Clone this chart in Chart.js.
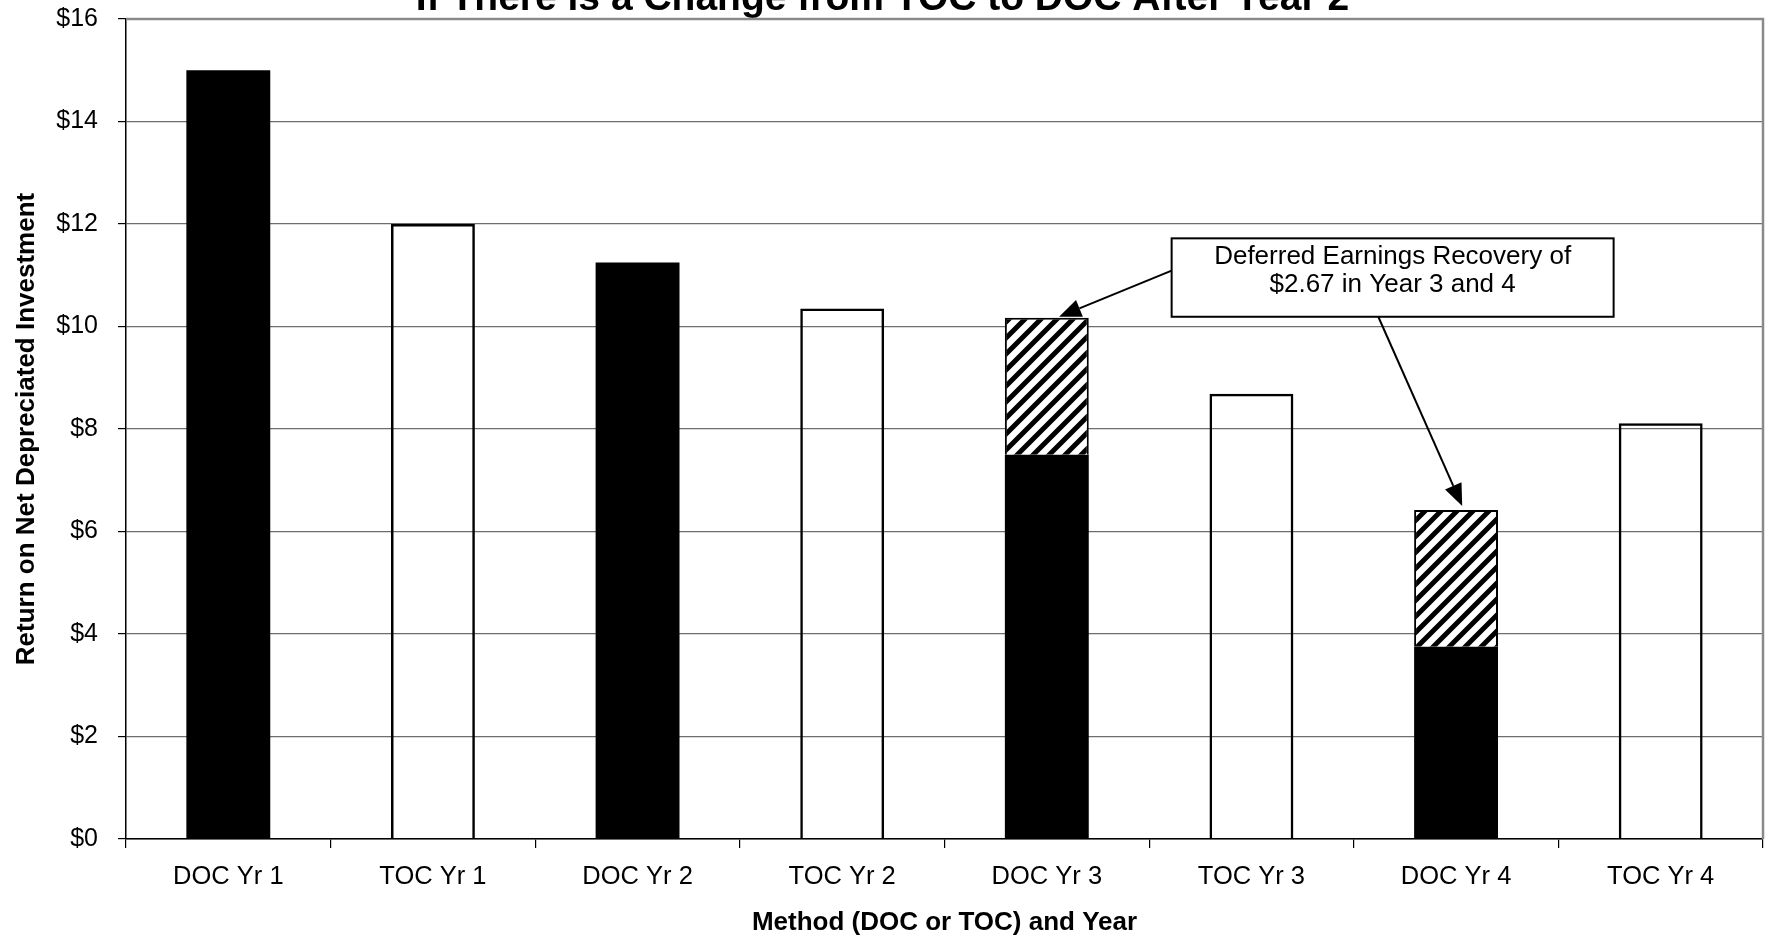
<!DOCTYPE html>
<html>
<head>
<meta charset="utf-8">
<script src="https://cdn.jsdelivr.net/npm/chart.js@4.4.1/dist/chart.umd.min.js"></script>
<style>
  html, body { margin: 0; padding: 0; background: #ffffff; overflow: hidden; }
  #wrap { width: 1765px; height: 939px; position: relative; }
</style>
</head>
<body>
<div id="wrap"><canvas id="c" width="1765" height="939"></canvas></div>
<script>
// Return on net depreciated investment, DOC vs TOC, years 1-4
const categories = ['DOC Yr 1', 'TOC Yr 1', 'DOC Yr 2', 'TOC Yr 2', 'DOC Yr 3', 'TOC Yr 3', 'DOC Yr 4', 'TOC Yr 4'];
const docReturn = [15.00, null, 11.25, null, 7.50, null, 3.75, null];
const deferredRecovery = [null, null, null, null, 2.67, null, 2.67, null];
const tocReturn = [null, 12.00, null, 10.35, null, 8.69, null, 8.11];
const yTickValues = [0, 2, 4, 6, 8, 10, 12, 14, 16];
const yTickLabels = ['$0', '$2', '$4', '$6', '$8', '$10', '$12', '$14', '$16'];

const chartTitle = 'If There is a Change from TOC to DOC After Year 2';
const xTitle = 'Method (DOC or TOC) and Year';
const yTitle = 'Return on Net Depreciated Investment';
const calloutLines = ['Deferred Earnings Recovery of', '$2.67 in Year 3 and 4'];

const FONT = '"Liberation Sans", Arial, Helvetica, sans-serif';

// Diagonal stripe fill for the deferred-recovery segments
function makeHatch() {
  const s = 16;
  const cv = document.createElement('canvas');
  cv.width = s; cv.height = s;
  const g = cv.getContext('2d');
  g.fillStyle = '#ffffff';
  g.fillRect(0, 0, s, s);
  g.strokeStyle = '#000000';
  g.lineWidth = 5;
  g.lineCap = 'square';
  g.beginPath();
  g.moveTo(-s, s); g.lineTo(s, -s);
  g.moveTo(0, s); g.lineTo(s, 0);
  g.moveTo(0, 2 * s); g.lineTo(2 * s, 0);
  g.stroke();
  return g.createPattern(cv, 'repeat');
}

// Page title, sitting partly above the top edge
const titlePlugin = {
  id: 'topTitle',
  afterDraw(chart) {
    const ctx = chart.ctx;
    ctx.save();
    ctx.font = 'bold 39px ' + FONT;
    ctx.fillStyle = '#000';
    ctx.textAlign = 'center';
    ctx.textBaseline = 'alphabetic';
    ctx.fillText(chartTitle, chart.width / 2, 10);
    ctx.restore();
  }
};

// Gray frame on top and right of the plot area
const framePlugin = {
  id: 'plotFrame',
  afterDraw(chart) {
    const a = chart.chartArea;
    const ctx = chart.ctx;
    ctx.save();
    ctx.strokeStyle = '#8a8a8a';
    ctx.lineWidth = 2.5;
    ctx.beginPath();
    ctx.moveTo(a.left, a.top);
    ctx.lineTo(a.right, a.top);
    ctx.lineTo(a.right, a.bottom);
    ctx.stroke();
    ctx.restore();
  }
};

// Callout box with arrows pointing at the deferred segments
const calloutPlugin = {
  id: 'callout',
  afterDatasetsDraw(chart) {
    const x = chart.scales.x, y = chart.scales.y, ctx = chart.ctx;
    const box = { i0: 4.61, i1: 6.77, v0: 11.72, v1: 10.19 };
    const left = x.getPixelForValue(box.i0), right = x.getPixelForValue(box.i1);
    const top = y.getPixelForValue(box.v0), bottom = y.getPixelForValue(box.v1);

    const arrow = (x1, y1, x2, y2) => {
      const ang = Math.atan2(y2 - y1, x2 - x1);
      const hl = 22, hw = 9;
      const bx = x2 - hl * Math.cos(ang), by = y2 - hl * Math.sin(ang);
      ctx.beginPath();
      ctx.moveTo(x1, y1);
      ctx.lineTo(bx, by);
      ctx.stroke();
      ctx.beginPath();
      ctx.moveTo(x2, y2);
      ctx.lineTo(bx + hw * Math.sin(ang), by - hw * Math.cos(ang));
      ctx.lineTo(bx - hw * Math.sin(ang), by + hw * Math.cos(ang));
      ctx.closePath();
      ctx.fill();
    };

    ctx.save();
    ctx.strokeStyle = '#000';
    ctx.fillStyle = '#000';
    ctx.lineWidth = 2;
    // to the Year 3 segment
    const d3Top = docReturn[4] + deferredRecovery[4];
    arrow(left, y.getPixelForValue(11.09), x.getPixelForValue(4.06), y.getPixelForValue(d3Top) - 1);
    // to the Year 4 segment
    const d4Top = docReturn[6] + deferredRecovery[6];
    arrow(x.getPixelForValue(5.62), bottom, x.getPixelForValue(6.03), y.getPixelForValue(d4Top) - 4);

    ctx.fillStyle = '#fff';
    ctx.fillRect(left, top, right - left, bottom - top);
    ctx.strokeRect(left, top, right - left, bottom - top);
    ctx.fillStyle = '#000';
    ctx.font = '26px ' + FONT;
    ctx.textAlign = 'center';
    ctx.textBaseline = 'middle';
    const cx = (left + right) / 2, h = bottom - top;
    ctx.fillText(calloutLines[0], cx, top + h * 0.23);
    ctx.fillText(calloutLines[1], cx, top + h * 0.59);
    ctx.restore();
  }
};

const hatch = makeHatch();

new Chart(document.getElementById('c'), {
  type: 'bar',
  data: {
    labels: categories,
    datasets: [
      { label: 'DOC', data: docReturn, backgroundColor: '#000000', borderWidth: 0, stack: 's' },
      { label: 'Deferred', data: deferredRecovery, backgroundColor: hatch, borderColor: '#000000', borderWidth: 2, stack: 's' },
      { label: 'TOC', data: tocReturn, backgroundColor: 'rgba(255,255,255,0)', borderColor: '#000000', borderWidth: 2.5, stack: 's' }
    ]
  },
  options: {
    responsive: false,
    animation: false,
    devicePixelRatio: 1,
    barPercentage: 0.41,
    categoryPercentage: 1.0,
    layout: { padding: { top: 19, right: 2, left: 0, bottom: 0 } },
    plugins: {
      legend: { display: false },
      tooltip: { enabled: false },
      title: { display: false }
    },
    scales: {
      x: {
        stacked: true,
        grid: { offset: true, drawOnChartArea: false, drawTicks: true, tickLength: 9, color: '#000', lineWidth: 1.2 },
        border: { color: '#000', width: 1.5 },
        ticks: { color: '#000', font: { family: FONT, size: 25.5 }, padding: 14, maxRotation: 0, autoSkip: false },
        title: { display: true, text: xTitle, color: '#000', font: { family: FONT, size: 26, weight: 'bold' }, padding: { top: 0, bottom: 1 } },
        afterFit(s) { s.height = 100; }
      },
      y: {
        stacked: true,
        min: 0,
        max: 16,
        afterBuildTicks(s) { s.ticks = yTickValues.map(v => ({ value: v })); },
        ticks: {
          color: '#000',
          font: { family: FONT, size: 25 },
          padding: 20,
          callback: (v, i) => yTickLabels[i]
        },
        grid: { color: '#6e6e6e', lineWidth: 1.2, tickColor: '#000', tickLength: 8 },
        border: { color: '#000', width: 1.5 },
        title: { display: true, text: yTitle, color: '#000', font: { family: FONT, size: 26, weight: 'bold' }, padding: { top: 11, bottom: 0 } },
        afterFit(s) { s.width = 126; s.paddingTop = 0; s.paddingBottom = 0; }
      }
    }
  },
  plugins: [titlePlugin, framePlugin, calloutPlugin]
});
</script>
</body>
</html>
